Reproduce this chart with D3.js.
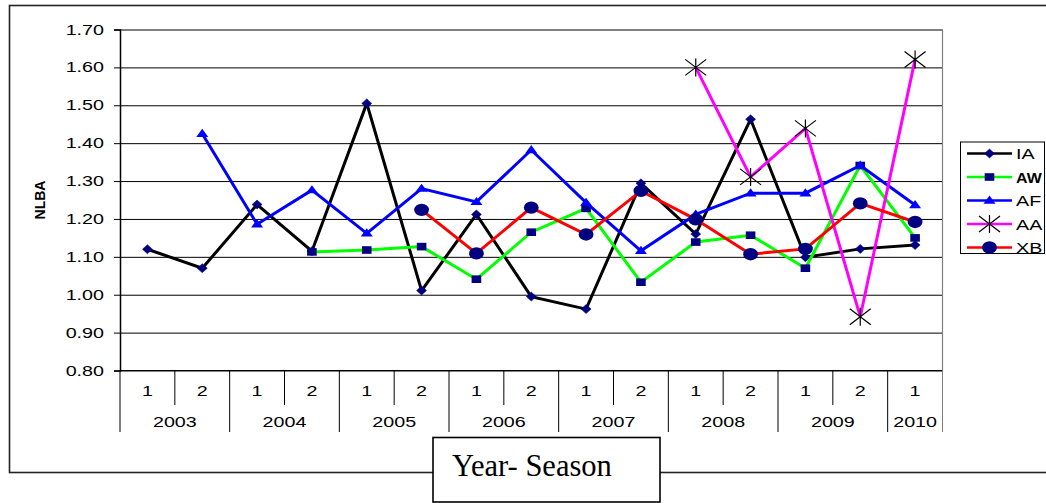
<!DOCTYPE html>
<html>
<head>
<meta charset="utf-8">
<script src="https://cdn.jsdelivr.net/npm/d3@7"></script>
<style>
  html, body { margin: 0; padding: 0; background: #fff; }
  svg { display: block; }
</style>
</head>
<body>
<svg id="chart" width="1046" height="503"></svg>
<script>
// ---- data ----
const categories = ["2003-1","2003-2","2004-1","2004-2","2005-1","2005-2","2006-1","2006-2",
                    "2007-1","2007-2","2008-1","2008-2","2009-1","2009-2","2010-1"];
const seasonLabels = ["1","2","1","2","1","2","1","2","1","2","1","2","1","2","1"];
const yearLabels = ["2003","2004","2005","2006","2007","2008","2009","2010"];
const yTicks = [0.80,0.90,1.00,1.10,1.20,1.30,1.40,1.50,1.60,1.70];
const seriesNames = ["IA","AW","AF","AA","XB"];
const IA = [1.120,1.070,1.238,1.115,1.505,1.011,1.212,0.995,0.962,1.294,1.160,1.463,1.099,1.121,1.131];
const AW = [null,null,null,1.113,1.118,1.127,1.041,1.165,1.228,1.033,1.139,1.157,1.070,1.341,1.150];
const AF = [null,1.425,1.186,1.276,1.162,1.280,1.245,1.382,1.243,1.116,1.212,1.268,1.268,1.341,1.237];
const AA = [null,null,null,null,null,null,null,null,null,null,1.600,1.311,1.439,0.942,1.621];
const XB = [null,null,null,null,null,1.224,1.109,1.230,1.159,1.274,1.199,1.107,1.121,1.241,1.192];

const seriesValues = {IA, AW, AF, AA, XB};
const styles = {
  IA: {line: "#000000", marker: "diamond", fill: "#000080"},
  AW: {line: "#00FF00", marker: "square", fill: "#000080"},
  AF: {line: "#0000FF", marker: "triangle", fill: "#0000FF"},
  AA: {line: "#FF00FF", marker: "star", fill: "#000000"},
  XB: {line: "#FF0000", marker: "circle", fill: "#000080"}
};

const svg = d3.select("#chart");
const SANS = "'Liberation Sans', Arial, sans-serif";
const SX = 1.36; // horizontal stretch of sans text in the original

function stretchedText(g, tx, ty, str, opts = {}) {
  const t = g.append("text")
    .attr("transform", `translate(${tx},${ty}) scale(${opts.sx || SX},1)`)
    .attr("text-anchor", opts.anchor || "middle")
    .style("font-family", SANS)
    .style("font-size", (opts.size || 14.5) + "px")
    .attr("fill", "#000")
    .text(str);
  if (opts.bold) t.style("font-weight", "bold");
  return t;
}

// outer chart border
svg.append("rect").attr("x", 9.5).attr("y", 5.5).attr("width", 1060).attr("height", 467)
  .attr("fill", "none").attr("stroke", "#222").attr("stroke-width", 1.6);

const pLeft = 120, pRight = 942.5, pTop = 29.5, pBottom = 370.5;
const x = d3.scaleBand().domain(categories).range([pLeft, pRight]);
const y = d3.scaleLinear().domain([0.8, 1.7]).range([pBottom, pTop]);

// gridlines
const grid = svg.append("g").attr("transform", `translate(${pLeft},0)`)
  .call(d3.axisLeft(y).tickValues(yTicks).tickSize(-(pRight - pLeft)).tickFormat(""));
grid.select(".domain").remove();
grid.selectAll("line").attr("stroke", "#000").attr("stroke-width", 1);

// plot area gray border (top/right)
svg.append("line").attr("x1", pLeft).attr("x2", pRight).attr("y1", pTop).attr("y2", pTop)
  .attr("stroke", "#808080").attr("stroke-width", 1.2);
svg.append("line").attr("x1", pRight).attr("x2", pRight).attr("y1", pTop).attr("y2", pBottom)
  .attr("stroke", "#808080").attr("stroke-width", 1.2);

// y axis
const yAxis = svg.append("g").attr("transform", `translate(${pLeft},0)`)
  .call(d3.axisLeft(y).tickValues(yTicks).tickSize(6).tickFormat(""));
yAxis.select(".domain").attr("stroke", "#000").attr("stroke-width", 1.5);
yAxis.selectAll("line").attr("stroke", "#000");
yTicks.forEach(v => {
  stretchedText(svg, 104, y(v) + 5, d3.format(".2f")(v), {anchor: "end"});
});

// y label
svg.append("text")
  .attr("transform", `translate(45,200) rotate(-90)`)
  .attr("text-anchor", "middle")
  .style("font-family", SANS)
  .style("font-size", "14px").style("font-weight", "bold")
  .text("NLBA");

// x axis
svg.append("line").attr("x1", pLeft).attr("x2", pRight).attr("y1", pBottom).attr("y2", pBottom)
  .attr("stroke", "#000").attr("stroke-width", 1.2);
const boundaries = categories.map(c => x(c)).concat([pRight]);
boundaries.forEach((bx, i) => {
  const isYear = (i % 2 === 0) || i === boundaries.length - 1;
  svg.append("line").attr("x1", bx).attr("x2", bx)
    .attr("y1", pBottom).attr("y2", isYear ? 432 : 405)
    .attr("stroke", i === boundaries.length - 1 ? "#808080" : "#000").attr("stroke-width", 1);
});
categories.forEach((c, i) => {
  stretchedText(svg, x(c) + x.bandwidth() / 2, 396, seasonLabels[i]);
});
yearLabels.forEach(yr => {
  const cats = categories.filter(c => c.startsWith(yr));
  const x0 = x(cats[0]), x1 = x(cats[cats.length - 1]) + x.bandwidth();
  stretchedText(svg, (x0 + x1) / 2, 426.5, yr);
});

// markers
function drawMarker(g, type, cx, cy, fill) {
  if (type === "diamond") {
    g.append("path").attr("d", `M${cx - 5},${cy} L${cx},${cy - 4.5} L${cx + 5},${cy} L${cx},${cy + 4.5} Z`)
      .attr("fill", fill).attr("stroke", fill).attr("stroke-width", 0.5);
  } else if (type === "square") {
    g.append("rect").attr("x", cx - 4.8).attr("y", cy - 3.8).attr("width", 9.6).attr("height", 7.6)
      .attr("fill", fill);
  } else if (type === "triangle") {
    g.append("path").attr("d", `M${cx},${cy - 5} L${cx + 6},${cy + 3.2} L${cx - 6},${cy + 3.2} Z`)
      .attr("fill", fill);
  } else if (type === "circle") {
    g.append("ellipse").attr("cx", cx).attr("cy", cy).attr("rx", 7.4).attr("ry", 6.2).attr("fill", fill);
  } else if (type === "star") {
    const p = `M${cx - 10.5},${cy - 8} L${cx + 10.5},${cy + 8} M${cx - 10.5},${cy + 8} L${cx + 10.5},${cy - 8} M${cx},${cy - 9} L${cx},${cy + 9}`;
    g.append("path").attr("d", p).attr("stroke", fill).attr("stroke-width", 1.2).attr("fill", "none");
  }
}

const lineGen = d3.line()
  .defined(d => d.v !== null)
  .x(d => x(d.c) + x.bandwidth() / 2)
  .y(d => y(d.v));

seriesNames.forEach(name => {
  const data = categories.map((c, i) => ({c, v: seriesValues[name][i]}));
  const st = styles[name];
  const g = svg.append("g");
  g.append("path").datum(data).attr("d", lineGen)
    .attr("fill", "none").attr("stroke", st.line).attr("stroke-width", 3)
    .attr("stroke-linejoin", "miter");
  data.filter(d => d.v !== null).forEach(d => {
    drawMarker(g, st.marker, x(d.c) + x.bandwidth() / 2, y(d.v), st.fill);
  });
});

// legend
const lg = svg.append("g");
lg.append("rect").attr("x", 960.5).attr("y", 142).attr("width", 84).attr("height", 111.5)
  .attr("fill", "#fff").attr("stroke", "#000").attr("stroke-width", 1);
const legendY = d3.scalePoint().domain(seriesNames).range([153.5, 247.5]);
seriesNames.forEach(name => {
  const st = styles[name];
  const ly = legendY(name);
  lg.append("line").attr("x1", 967).attr("x2", 1012).attr("y1", ly).attr("y2", ly)
    .attr("stroke", st.line).attr("stroke-width", 2.4);
  drawMarker(lg, st.marker, 989.5, ly, st.fill);
  if (name === "AW") {
    stretchedText(lg, 1016, ly + 5.5, name, {anchor: "start", bold: true, sx: 1.1});
  } else {
    stretchedText(lg, 1016, ly + 5.5, name, {anchor: "start"});
  }
});

// Year- Season box
svg.append("rect").attr("x", 433).attr("y", 437.5).attr("width", 227).attr("height", 64.5)
  .attr("fill", "#fff").attr("stroke", "#000").attr("stroke-width", 1.6);
svg.append("text").attr("x", 452).attr("y", 476)
  .style("font-family", "'Liberation Serif', 'Times New Roman', serif")
  .style("font-size", "30.5px").attr("fill", "#000")
  .text("Year- Season");
</script>
</body>
</html>
